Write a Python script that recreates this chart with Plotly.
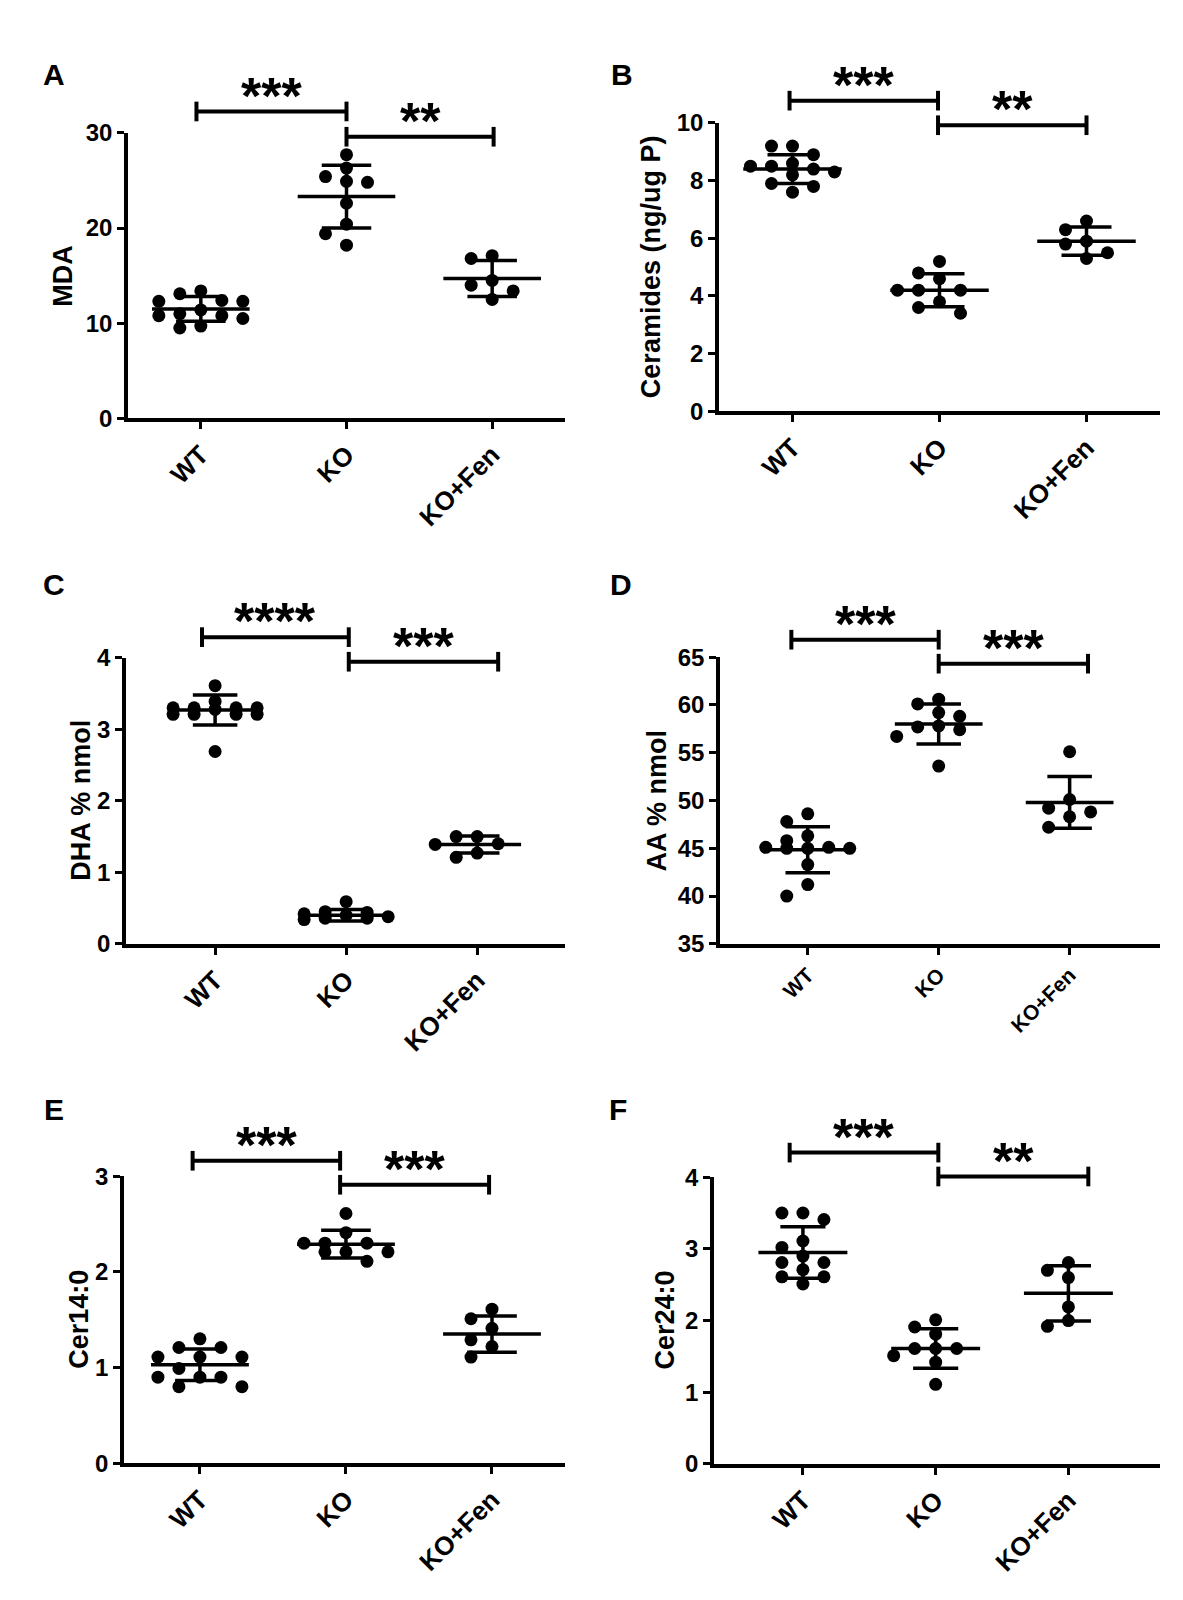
import math
import plotly.graph_objects as go

W, H = 1183, 1600
FONT = "Liberation Sans"

categories = ["WT", "KO", "KO+Fen"]

# ---- data ----
mda_wt = [13.1, 11.4, 12.4, 10.8, 9.5, 13.4, 10.5, 12.3, 11.0, 9.7, 12.3, 10.8]
mda_ko = [26.3, 24.8, 27.7, 25.4, 24.9, 22.6, 20.4, 19.4, 18.2]
mda_kofen = [16.8, 17.1, 14.5, 14.0, 13.4, 12.5]
mda_mean = [11.5, 23.3, 14.7]
mda_sd = [1.3, 3.3, 1.9]

cer_wt = [9.2, 8.5, 8.6, 8.2, 7.6, 8.5, 7.9, 8.9, 8.4, 7.8, 9.2, 8.3]
cer_ko = [5.2, 4.8, 4.6, 4.2, 4.2, 4.2, 3.8, 3.6, 3.4]
cer_kofen = [6.6, 6.3, 5.9, 5.8, 5.3, 5.5]
cer_mean = [8.4, 4.2, 5.9]
cer_sd = [0.5, 0.57, 0.49]

dha_wt = [3.61, 3.39, 3.30, 3.30, 3.30, 3.30, 3.28, 3.21, 3.21, 3.21, 3.21, 2.69]
dha_ko = [0.59, 0.44, 0.42, 0.45, 0.40, 0.38, 0.36, 0.36, 0.34]
dha_kofen = [1.40, 1.50, 1.50, 1.39, 1.21, 1.27]
dha_mean = [3.27, 0.40, 1.39]
dha_sd = [0.21, 0.08, 0.12]

aa_wt = [48.6, 47.8, 46.3, 45.8, 45.0, 45.0, 45.0, 45.1, 45.1, 43.3, 41.2, 40.0]
aa_ko = [60.6, 60.1, 59.2, 58.8, 57.8, 57.4, 57.7, 56.7, 53.6]
aa_kofen = [55.1, 50.1, 49.2, 48.8, 48.3, 47.2]
aa_mean = [44.85, 58.0, 49.8]
aa_sd = [2.4, 2.1, 2.7]

c14_wt = [1.21, 1.30, 1.21, 1.11, 1.11, 1.11, 0.80, 0.80, 0.90, 0.90, 0.90, 0.99]
c14_ko = [2.61, 2.41, 2.30, 2.30, 2.30, 2.21, 2.21, 2.21, 2.11]
c14_kofen = [1.61, 1.51, 1.41, 1.29, 1.22, 1.11]
c14_mean = [1.03, 2.29, 1.35]
c14_sd = [0.165, 0.145, 0.19]

c24_wt = [3.50, 3.50, 3.41, 3.11, 3.02, 2.90, 2.81, 2.81, 2.71, 2.61, 2.61, 2.51]
c24_ko = [2.01, 1.91, 1.81, 1.61, 1.61, 1.61, 1.51, 1.42, 1.11]
c24_kofen = [2.81, 2.70, 2.60, 2.19, 1.92, 2.00]
c24_mean = [2.95, 1.61, 2.38]
c24_sd = [0.36, 0.275, 0.385]

y_titles = ["MDA", "Ceramides (ng/ug P)", "DHA % nmol", "AA % nmol", "Cer14:0", "Cer24:0"]
panel_letters = ["A", "B", "C", "D", "E", "F"]
sig_labels = [["***", "**"], ["***", "**"], ["****", "***"],
              ["***", "***"], ["***", "***"], ["***", "**"]]

groups = [
    [mda_wt, mda_ko, mda_kofen],
    [cer_wt, cer_ko, cer_kofen],
    [dha_wt, dha_ko, dha_kofen],
    [aa_wt, aa_ko, aa_kofen],
    [c14_wt, c14_ko, c14_kofen],
    [c24_wt, c24_ko, c24_kofen],
]
means = [mda_mean, cer_mean, dha_mean, aa_mean, c14_mean, c24_mean]
sds = [mda_sd, cer_sd, dha_sd, aa_sd, c14_sd, c24_sd]

# ---- layout geometry (pixels) ----
geom = [
    dict(x0=120, x1=557, yt=112.7, yb=403.3, xr=[-0.5, 2.5], yr=[0, 30], dt=10, xf=26,
         tx=55, lab=(46, 53), bx=[-0.03, 1.0, 2.01], by=[91, 116.7]),
    dict(x0=711, x1=1152, yt=102.7, yb=396, xr=[-0.5, 2.5], yr=[0, 10], dt=2, xf=26,
         tx=643, lab=(614, 53), bx=[-0.02, 0.99, 2.0], by=[80, 105]),
    dict(x0=118, x1=557, yt=646.7, yb=937.7, xr=[-0.68, 2.67], yr=[0, 4], dt=1, xf=26,
         tx=73, lab=(46, 572), bx=[-0.1, 1.02, 2.16], by=[625.7, 650.7]),
    dict(x0=712, x1=1152, yt=646, yb=937.7, xr=[-0.67, 2.69], yr=[35, 65], dt=5, xf=21,
         tx=649, lab=(613, 572), bx=[-0.125, 1.0, 2.14], by=[628.3, 652.7]),
    dict(x0=116, x1=557, yt=1174, yb=1466, xr=[-0.52, 2.5], yr=[0, 3], dt=1, xf=26,
         tx=71, lab=(46, 1106), bx=[-0.05, 0.96, 1.98], by=[1158.3, 1182.7]),
    dict(x0=706, x1=1152, yt=1175, yb=1466.7, xr=[-0.67, 2.69], yr=[0, 4], dt=1, xf=26,
         tx=657, lab=(610, 1106), bx=[-0.1, 1.02, 2.15], by=[1150, 1174.3]),
]

DOT = 13
STEP = 21
LW = 3.5


def swarm(vals, ppx, ppy):
    """Greedy beeswarm: x offsets (category units) for each value."""
    order = sorted(range(len(vals)), key=lambda i: -vals[i])
    cands = [0, -1, 1, -2, 2]
    placed = []
    offs = [0.0] * len(vals)
    for i in order:
        yp = vals[i] * ppy
        chosen, best_c, best_d = None, 0, -1
        for c in cands:
            xp = c * STEP
            d = min((math.hypot(xp - px, yp - py) for px, py in placed), default=1e9)
            if d >= DOT:
                chosen = c
                break
            if d > best_d:
                best_d, best_c = d, c
        if chosen is None:
            chosen = best_c
        placed.append((chosen * STEP, yp))
        offs[i] = chosen * STEP / ppx
    return offs


fig = go.Figure()
shapes = []
annotations = []


def py(p):
    return 1 - p / H


for k, g in enumerate(geom):
    n = "" if k == 0 else str(k + 1)
    xa, ya = "x" + n, "y" + n
    ppx = (g["x1"] - g["x0"]) / (g["xr"][1] - g["xr"][0])
    ppy = (g["yb"] - g["yt"]) / (g["yr"][1] - g["yr"][0])

    for gi, vals in enumerate(groups[k]):
        offs = swarm(vals, ppx, ppy)
        fig.add_trace(go.Scatter(
            x=[gi + o for o in offs], y=vals, mode="markers",
            marker=dict(size=DOT, color="black", line=dict(width=0)),
            xaxis=xa, yaxis=ya, showlegend=False, hoverinfo="skip", cliponaxis=False))

    # mean (line-ew marker: half-length = 0.7 * size) and SD
    fig.add_trace(go.Scatter(
        x=[0, 1, 2], y=means[k], mode="markers",
        marker=dict(symbol="line-ew", size=2 * 0.335 * ppx / 1.4, color="black",
                    line=dict(width=LW, color="black")),
        error_y=dict(type="data", array=sds[k], visible=True, color="black",
                     thickness=LW, width=0.17 * ppx),
        xaxis=xa, yaxis=ya, showlegend=False, hoverinfo="skip", cliponaxis=False))

    fig.layout["xaxis" + n] = dict(
        domain=[g["x0"] / W, g["x1"] / W], range=g["xr"], anchor=ya,
        tickvals=[0, 1, 2], ticktext=categories, tickangle=-45,
        ticks="outside", ticklen=7, tickwidth=3, tickcolor="black",
        showline=True, linewidth=LW, linecolor="black", showgrid=False, zeroline=False,
        tickfont=dict(family=FONT, size=g["xf"], color="black", weight="bold"))
    fig.layout["yaxis" + n] = dict(
        domain=[py(g["yb"]), py(g["yt"])], range=g["yr"], anchor=xa, dtick=g["dt"],
        tick0=g["yr"][0],
        ticks="outside", ticklen=7, tickwidth=3, tickcolor="black",
        showline=True, linewidth=LW, linecolor="black", showgrid=False, zeroline=False,
        tickfont=dict(family=FONT, size=24, color="black", weight="bold"))

    # significance brackets
    bx, by = g["bx"], g["by"]
    for j in range(2):
        xa0, xa1, yy = bx[j], bx[j + 1], by[j]
        line = dict(color="black", width=4)
        shapes.append(dict(type="line", xref=xa, yref="paper", x0=xa0, x1=xa1,
                           y0=py(yy), y1=py(yy), line=line))
        for xe in (xa0, xa1):
            shapes.append(dict(type="line", xref=xa, yref="paper", x0=xe, x1=xe,
                               y0=py(yy - 10), y1=py(yy + 10), line=line))
        annotations.append(dict(
            x=(xa0 + xa1) / 2, y=py(yy - 16), xref=xa, yref="paper",
            text=sig_labels[k][j], showarrow=False, xanchor="center", yanchor="middle",
            font=dict(family=FONT, size=52, color="black", weight="bold")))

    # y title
    annotations.append(dict(
        x=g["tx"] / W, y=py((g["yt"] + g["yb"]) / 2), xref="paper", yref="paper",
        text=y_titles[k], textangle=-90, showarrow=False,
        xanchor="center", yanchor="middle",
        font=dict(family=FONT, size=27, color="black", weight="bold")))
    # panel letter
    annotations.append(dict(
        x=g["lab"][0] / W, y=py(g["lab"][1]), xref="paper", yref="paper",
        text=panel_letters[k], showarrow=False, xanchor="center", yanchor="middle",
        font=dict(family=FONT, size=30, color="black", weight="bold")))

fig.update_layout(
    width=W, height=H, margin=dict(l=0, r=0, t=0, b=0),
    paper_bgcolor="white", plot_bgcolor="white",
    shapes=shapes, annotations=annotations, showlegend=False,
)

fig.write_html("out.html")
